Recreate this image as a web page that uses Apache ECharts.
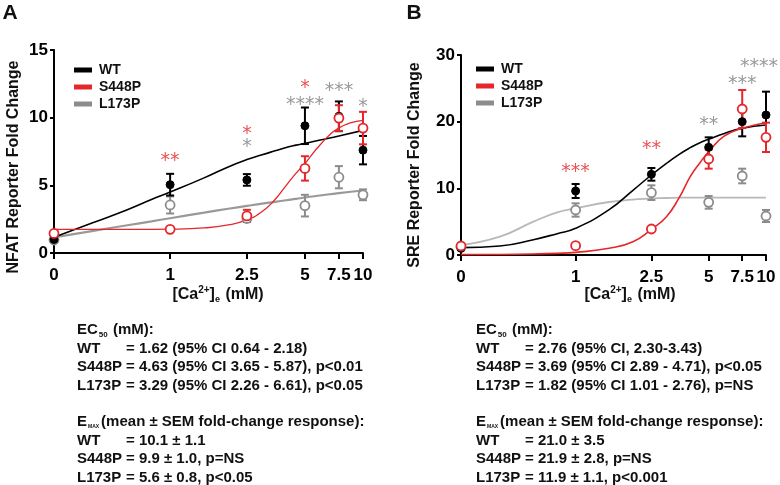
<!DOCTYPE html>
<html><head><meta charset="utf-8">
<script src="https://cdn.jsdelivr.net/npm/echarts@6/dist/echarts.min.js"></script>
<style>html,body{margin:0;padding:0;background:#fff}#c{width:780px;height:485px}</style>
</head><body><div id="c"></div>
<script>
// ---------- data ----------
const doses = [0, 1, 2.5, 5, 7.5, 10];
const doseLabels = ['0', '1', '2.5', '5', '7.5', '10'];
const groupNames = ['WT', 'S448P', 'L173P'];

// Panel A: NFAT reporter (mean, SEM)
const nfatWT = [1.0, 5.05, 5.4, 9.4, 10.1, 7.6];
const nfatWTsem = [0.15, 0.8, 0.43, 1.35, 1.1, 1.05];
const nfatS448P = [1.45, 1.75, 2.74, 6.25, 9.97, 9.23];
const nfatS448Psem = [0.1, 0.1, 0.45, 0.9, 0.95, 1.2];
const nfatL173P = [0.96, 3.55, 2.55, 3.5, 5.6, 4.3];
const nfatL173Psem = [0.1, 0.63, 0.25, 0.8, 0.82, 0.4];

// Panel B: SRE reporter (mean, SEM)
const sreWT = [1.0, 9.6, 12.1, 16.15, 20.0, 21.0];
const sreWTsem = [0.2, 1.05, 0.95, 1.5, 2.2, 3.5];
const sreS448P = [1.35, 1.4, 3.9, 14.4, 21.9, 17.65];
const sreS448Psem = [0.2, 0.2, 0.3, 1.45, 2.85, 2.2];
const sreL173P = [1.2, 6.75, 9.35, 7.9, 11.85, 5.85];
const sreL173Psem = [0.2, 1.0, 1.1, 0.95, 1.1, 0.9];

// Fitted curves at these concentrations
const fitDoses = [0, 0.4, 0.6, 0.8, 1, 1.5, 2, 2.5, 3, 3.5, 4, 4.5, 5, 6, 7.5, 10];
const nfatFitWT = [1.16, 2.25, 3.2, 3.95, 4.5, 5.55, 6.36, 6.9, 7.26, 7.55, 7.8, 7.97, 8.1, 8.35, 8.65, 9.06];
const nfatFitS448P = [1.75, 1.75, 1.75, 1.75, 1.76, 1.85, 2.07, 2.44, 3.06, 3.95, 5.0, 5.9, 6.6, 8.0, 9.25, 9.8];
const nfatFitL173P = [1.16, 1.64, 2.05, 2.34, 2.57, 2.98, 3.27, 3.48, 3.65, 3.78, 3.9, 4.0, 4.1, 4.25, 4.43, 4.62];
const sreFitWT = [1.1, 1.35, 2.3, 3.2, 4.0, 6.8, 9.7, 12.0, 13.75, 15.1, 16.1, 16.85, 17.35, 18.2, 19.0, 19.5];
const sreFitS448P = [0.05, 0.08, 0.15, 0.25, 0.4, 1.0, 2.0, 3.85, 5.75, 8.6, 11.75, 13.85, 15.5, 17.8, 19.0, 19.85];
const sreFitL173P = [1.5, 2.75, 5.0, 6.4, 7.0, 7.95, 8.3, 8.5, 8.55, 8.6, 8.6, 8.6, 8.6, 8.6, 8.6, 8.6];

// Significance marks: [concentration, height, text, group]
const nfatStars = [
  [1, 7.2, '**', 'S448P'],
  [2.5, 9.24, '*', 'S448P'],
  [2.5, 8.24, '*', 'L173P'],
  [5, 12.6, '*', 'S448P'],
  [5, 11.4, '****', 'L173P'],
  [7.5, 12.4, '***', 'L173P'],
  [10, 11.2, '*', 'L173P']
];
const sreStars = [
  [1, 13.35, '***', 'S448P'],
  [2.5, 16.75, '**', 'S448P'],
  [5, 20.4, '**', 'L173P'],
  [7.5, 26.6, '***', 'L173P'],
  [10, 29.1, '****', 'L173P']
];

// Text blocks
const ecA = [['WT', '= 1.62 (95% CI 0.64 - 2.18)'], ['S448P', '= 4.63 (95% CI 3.65 - 5.87), p<0.01'], ['L173P', '= 3.29 (95% CI 2.26 - 6.61), p<0.05']];
const emA = [['WT', '= 10.1 \u00b1 1.1'], ['S448P', '= 9.9 \u00b1 1.0, p=NS'], ['L173P', '= 5.6 \u00b1 0.8, p<0.05']];
const ecB = [['WT', '= 2.76 (95% CI, 2.30-3.43)'], ['S448P', '= 3.69 (95% CI 2.89 - 4.71), p<0.05'], ['L173P', '= 1.82 (95% CI 1.01 - 2.76), p=NS']];
const emB = [['WT', '= 21.0 \u00b1 3.5'], ['S448P', '= 21.9 \u00b1 2.8, p=NS'], ['L173P', '= 11.9 \u00b1 1.1, p<0.001']];

// ---------- chart ----------
const FONT = '"Liberation Sans", Arial, Helvetica, sans-serif';
const ZERO_AT = 0.25; // where concentration 0 sits on the log axis
const xOf = d => Math.log10(d === 0 ? ZERO_AT : d);
const RED = '#e5262a', BLACK = '#000', GRAY = '#8c8c8c';
const colorOf = {WT: BLACK, S448P: RED, L173P: GRAY};

function labelFor(v) {
  for (let i = 0; i < doses.length; i++) if (Math.abs(xOf(doses[i]) - v) < 1e-6) return doseLabels[i];
  return '';
}

const panels = [
  {grid: {left: 54, top: 50, width: 309, height: 203}, ymax: 15, yint: 5,
   mean: {WT: nfatWT, S448P: nfatS448P, L173P: nfatL173P},
   sem: {WT: nfatWTsem, S448P: nfatS448Psem, L173P: nfatL173Psem},
   fit: {WT: nfatFitWT, S448P: nfatFitS448P, L173P: nfatFitL173P},
   fitStyle: {WT: [BLACK, 1.6], S448P: [RED, 1.3], L173P: ['#999999', 2.2]},
   stars: nfatStars},
  {grid: {left: 461, top: 55, width: 305, height: 200}, ymax: 30, yint: 10,
   mean: {WT: sreWT, S448P: sreS448P, L173P: sreL173P},
   sem: {WT: sreWTsem, S448P: sreS448Psem, L173P: sreL173Psem},
   fit: {WT: sreFitWT, S448P: sreFitS448P, L173P: sreFitL173P},
   fitStyle: {WT: [BLACK, 1.6], S448P: [RED, 1.6], L173P: ['#b8b8b8', 1.8]},
   stars: sreStars}
];

const grids = [], xAxes = [], yAxes = [], series = [];
const tickVals = doses.map(xOf);
const drawOrder = ['L173P', 'WT', 'S448P'];

panels.forEach((p, i) => {
  grids.push(p.grid);
  xAxes.push({
    type: 'value', gridIndex: i, min: xOf(0), max: xOf(10),
    splitLine: {show: false},
    axisLine: {show: true, onZero: false, lineStyle: {color: '#000', width: 2}},
    axisTick: {show: true, customValues: tickVals, length: 6, lineStyle: {color: '#000', width: 2}},
    axisLabel: {customValues: tickVals, formatter: labelFor, color: '#000', fontSize: 17, fontWeight: 'bold', fontFamily: FONT, margin: 14}
  });
  yAxes.push({
    type: 'value', gridIndex: i, min: 0, max: p.ymax, interval: p.yint,
    splitLine: {show: false},
    axisLine: {show: true, onZero: false, lineStyle: {color: '#000', width: 2}},
    axisTick: {show: true, length: 4, lineStyle: {color: '#000', width: 2}},
    axisLabel: {color: '#000', fontSize: 17, fontWeight: 'bold', fontFamily: FONT, margin: 6}
  });
  // fitted curves
  drawOrder.forEach(g => {
    series.push({
      type: 'line', name: g, xAxisIndex: i, yAxisIndex: i,
      data: fitDoses.map((d, k) => [xOf(d), p.fit[g][k]]),
      smooth: 0.5, symbol: 'none', showSymbol: false, silent: true,
      lineStyle: {color: p.fitStyle[g][0], width: p.fitStyle[g][1]},
      itemStyle: {color: colorOf[g]}, z: 2
    });
  });
  // error bars + points
  drawOrder.forEach(g => {
    const col = colorOf[g];
    series.push({
      type: 'custom', name: g + ' SEM', xAxisIndex: i, yAxisIndex: i, silent: true, z: 3,
      data: doses.map((d, k) => [xOf(d), p.mean[g][k], p.sem[g][k]]),
      encode: {x: 0, y: 1},
      renderItem: (params, api) => {
        const x = api.value(0), y = api.value(1), e = api.value(2);
        const t = api.coord([x, y + e]), b = api.coord([x, y - e]);
        const cw = 4, st = {stroke: col, lineWidth: 2};
        return {type: 'group', children: [
          {type: 'line', shape: {x1: t[0], y1: t[1], x2: b[0], y2: b[1]}, style: st},
          {type: 'line', shape: {x1: t[0] - cw, y1: t[1], x2: t[0] + cw, y2: t[1]}, style: st},
          {type: 'line', shape: {x1: b[0] - cw, y1: b[1], x2: b[0] + cw, y2: b[1]}, style: st}
        ]};
      }
    });
    series.push({
      type: 'scatter', name: g + ' mean', xAxisIndex: i, yAxisIndex: i, silent: true, z: 4,
      data: doses.map((d, k) => [xOf(d), p.mean[g][k]]),
      symbol: 'circle', symbolSize: g === 'WT' ? 8 : 9,
      itemStyle: g === 'WT' ? {color: col, borderColor: col, borderWidth: 1, opacity: 1}
                            : {color: '#fff', borderColor: col, borderWidth: 1.8, opacity: 1}
    });
  });
  // significance marks
  series.push({
    type: 'scatter', name: 'stars' + i, xAxisIndex: i, yAxisIndex: i, silent: true, z: 5,
    symbolSize: 0,
    data: p.stars.map(s => ({
      value: [xOf(s[0]), s[1]],
      label: {show: true, position: 'inside', formatter: s[2],
        offset: [(s[0] === 10 && s[2].length > 3) ? -7 : 0, 6],
        color: s[3] === 'S448P' ? RED : '#808080',
        fontSize: 19, fontFamily: '"DejaVu Sans", sans-serif'}
    }))
  });
});

function legendOf(left, top) {
  return {
    orient: 'vertical', left: left, top: top, padding: 0, icon: 'rect', itemWidth: 18, itemHeight: 5, itemGap: 3,
    selectedMode: false,
    data: groupNames.map(n => ({name: n, itemStyle: {color: colorOf[n]}})),
    textStyle: {fontSize: 14, fontWeight: 'bold', color: '#111', fontFamily: FONT, padding: [0, 0, 0, 2]}
  };
}

const graphic = [];
function T(x, y, text, font, extra) {
  graphic.push({type: 'text', x: x, y: y, silent: true, rotation: (extra && extra.rotation) || 0,
    style: Object.assign({text: text, font: font, fill: '#111',
      textAlign: (extra && extra.align) || 'left', align: (extra && extra.align) || 'left',
      textVerticalAlign: 'middle', verticalAlign: 'middle'}, (extra && extra.style) || {})});
}
const B15 = 'bold 15px ' + FONT;
// panel letters
T(10, 13, 'A', 'bold 21px ' + FONT, {align: 'center'});
T(414, 13, 'B', 'bold 21px ' + FONT, {align: 'center'});
// y titles
T(14, 167, 'NFAT Reporter Fold Change', 'bold 16px ' + FONT, {align: 'center', rotation: Math.PI / 2});
T(415, 165, 'SRE Reporter Fold Change', 'bold 16px ' + FONT, {align: 'center', rotation: Math.PI / 2});
// x titles
const xTitleRich = {
  b: {font: 'bold 16px ' + FONT, fill: '#111'},
  sup: {font: 'bold 10px ' + FONT, fill: '#111', padding: [0, 0, 9, 0]},
  sub: {font: 'bold 9px ' + FONT, fill: '#111', padding: [10, 1, 0, 0]}
};
[218, 630].forEach(cx => T(cx, 295, '{b|[Ca}{sup|2+}{b|]}{sub|e}{b| (mM)}', 'bold 16px ' + FONT,
  {align: 'center', style: {rich: xTitleRich}}));

// text blocks
const blockRich = {
  b: {font: B15, fill: '#111'},
  n: {font: B15, fill: '#111', width: 49},
  s: {font: 'bold 8px ' + FONT, fill: '#111', padding: [9, 1, 0, 1]},
  m: {font: 'bold 5px ' + FONT, fill: '#111', padding: [10, 2, 0, 1]}
};
const lineY = [330, 348.6, 367.2, 385.8, 421.9, 440.5, 459.1, 477.7];
[[77, ecA, emA], [476, ecB, emB]].forEach(([x0, ec, em]) => {
  T(x0, lineY[0], '{b|EC}{s|50}{b| (mM):}', B15, {style: {rich: blockRich}});
  ec.forEach((r, k) => T(x0, lineY[1 + k], '{n|' + r[0] + '}{b|' + r[1] + '}', B15, {style: {rich: blockRich}}));
  T(x0, lineY[4], '{b|E}{m|MAX}{b|(mean \u00b1 SEM fold-change response):}', B15, {style: {rich: blockRich}});
  em.forEach((r, k) => T(x0, lineY[5 + k], '{n|' + r[0] + '}{b|' + r[1] + '}', B15, {style: {rich: blockRich}}));
});

const chart = echarts.init(document.getElementById('c'), null, {renderer: 'canvas'});
chart.setOption({
  backgroundColor: '#fff',
  animation: false,
  grid: grids, xAxis: xAxes, yAxis: yAxes,
  legend: [legendOf(74, 63), legendOf(476, 62)],
  series: series,
  graphic: graphic
});
</script></body></html>
